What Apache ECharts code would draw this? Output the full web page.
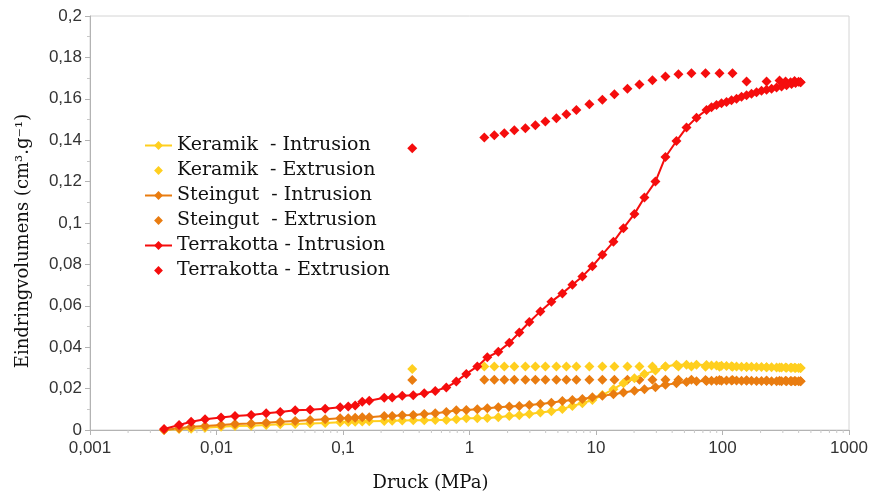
<!DOCTYPE html>
<html>
<head>
<meta charset="utf-8">
<script src="https://cdn.jsdelivr.net/npm/echarts@6/dist/echarts.min.js"></script>
<style>html,body{margin:0;padding:0;background:#fff}#c{width:872px;height:492px}</style>
</head>
<body>
<div id="c"></div>
<script>
// Pressure (MPa) of intrusion steps
const intrusionPressure = [0.00385, 0.00506, 0.0063, 0.00812, 0.01087, 0.0140, 0.0188, 0.0247, 0.0319, 0.0419, 0.0550, 0.0723, 0.0950, 0.1100, 0.1249, 0.1419, 0.1612, 0.2118, 0.2449, 0.2940, 0.3592, 0.4389, 0.5362, 0.6554,
  0.7863, 0.9434, 1.153, 1.383, 1.690, 2.065, 2.477, 2.972, 3.632, 4.437, 5.422, 6.507, 7.806, 9.365, 11.23, 13.73, 16.48, 20.13, 24.15, 29.50, 35.41, 43.26, 51.91, 62.28,
  74.70, 81.85, 89.66, 98.2, 107.5, 117.8, 129.1, 141.4, 154.9, 169.6, 185.8, 203.4, 222.9, 244.2, 267.4, 293.0, 320.9, 351.4, 378.0, 414];
const keramikIntrusion = [0, 0.0005, 0.0006, 0.0011, 0.0016, 0.0019, 0.0021, 0.0024, 0.0028, 0.0029, 0.0032, 0.0034, 0.0037, 0.0039, 0.0040, 0.0041, 0.0042, 0.0044, 0.0045, 0.0046, 0.0047, 0.0047, 0.0048, 0.0048,
  0.0052, 0.0057, 0.0057, 0.0058, 0.0062, 0.0068, 0.0071, 0.0077, 0.0084, 0.0091, 0.0102, 0.0116, 0.0129, 0.0145, 0.0169, 0.0197, 0.0226, 0.0250, 0.0271, 0.0287, 0.0307, 0.0315, 0.0315, 0.0315,
  0.0314, 0.0312, 0.0311, 0.0310, 0.0309, 0.0308, 0.0307, 0.0306, 0.0306, 0.0305, 0.0304, 0.0304, 0.0303, 0.0303, 0.0302, 0.0302, 0.0301, 0.0301, 0.0300, 0.0300];
const steingutIntrusion = [0, 0.0008, 0.0016, 0.0019, 0.0024, 0.0029, 0.0032, 0.0035, 0.0040, 0.0044, 0.0048, 0.0052, 0.0057, 0.0057, 0.0059, 0.0061, 0.0062, 0.0068, 0.0068, 0.0071, 0.0073, 0.0077, 0.0081, 0.0087,
  0.0095, 0.0097, 0.0100, 0.0105, 0.0110, 0.0113, 0.0116, 0.0121, 0.0126, 0.0132, 0.0140, 0.0145, 0.0150, 0.0158, 0.0165, 0.0173, 0.0181, 0.0190, 0.0197, 0.0207, 0.0218, 0.0226, 0.0232, 0.0235,
  0.0237, 0.0238, 0.0238, 0.0238, 0.0239, 0.0239, 0.0239, 0.0238, 0.0238, 0.0238, 0.0237, 0.0237, 0.0237, 0.0236, 0.0236, 0.0236, 0.0236, 0.0236, 0.0235, 0.0235];
const terrakottaIntrusion = [0.0005, 0.0024, 0.0040, 0.0052, 0.0060, 0.0068, 0.0073, 0.0081, 0.0087, 0.0095, 0.0098, 0.0103, 0.0110, 0.0113, 0.0118, 0.0136, 0.0141, 0.0156, 0.0157, 0.0165, 0.0168, 0.0178, 0.0189, 0.0205,
  0.0234, 0.0271, 0.0307, 0.0351, 0.0378, 0.0421, 0.0471, 0.0522, 0.0573, 0.0620, 0.0660, 0.0702, 0.0742, 0.0791, 0.0847, 0.0909, 0.0975, 0.1044, 0.1123, 0.1200, 0.1319, 0.1396, 0.1461, 0.1509,
  0.1546, 0.1559, 0.1570, 0.1579, 0.1585, 0.1593, 0.1600, 0.1610, 0.1617, 0.1625, 0.1632, 0.1639, 0.1644, 0.1649, 0.1655, 0.1659, 0.1666, 0.1671, 0.1676, 0.1680];

// Pressure (MPa) of extrusion steps
const extrusionPressure = [0.3527, 1.310, 1.571, 1.885, 2.262, 2.764, 3.316, 3.978, 4.861, 5.832, 6.998, 8.867, 11.23, 13.98, 17.72, 22.05, 27.94, 35.41, 44.86, 56.84, 73.36, 94.7, 120.0, 154.9, 222.9, 282.4, 315.0, 345.1, 371.3, 399.4, 414];
const keramikExtrusion = [0.0295, 0.0307, 0.0307, 0.0307, 0.0307, 0.0307, 0.0307, 0.0307, 0.0307, 0.0307, 0.0307, 0.0307, 0.0307, 0.0307, 0.0307, 0.0307, 0.0307, 0.0307, 0.0307, 0.0307,
  0.0306, 0.0305, 0.0305, 0.0304, 0.0303, 0.0302, 0.0302, 0.0301, 0.0301, 0.0300, 0.0300];
const steingutExtrusion = [0.0242, 0.0243, 0.0243, 0.0243, 0.0243, 0.0243, 0.0243, 0.0243, 0.0243, 0.0243, 0.0243, 0.0243, 0.0243, 0.0243, 0.0243, 0.0243, 0.0243, 0.0243, 0.0243, 0.0243,
  0.0242, 0.0241, 0.0241, 0.0240, 0.0239, 0.0238, 0.0238, 0.0237, 0.0237, 0.0236, 0.0236];
const terrakottaExtrusion = [0.1361, 0.1413, 0.1424, 0.1433, 0.1448, 0.1458, 0.1472, 0.1490, 0.1506, 0.1525, 0.1546, 0.1574, 0.1595, 0.1622, 0.1648, 0.1669, 0.1690, 0.1708, 0.1718, 0.1724,
  0.1724, 0.1724, 0.1724, 0.1683, 0.1683, 0.1688, 0.1684, 0.1680, 0.1686, 0.1682, 0.1680];

const seriesNames = ['Keramik  - Intrusion', 'Keramik  - Extrusion', 'Steingut  - Intrusion', 'Steingut  - Extrusion', 'Terrakotta - Intrusion', 'Terrakotta - Extrusion'];
const xMinorTicks = [];
[0.001, 0.01, 0.1, 1, 10, 100].forEach(d => { for (let k = 2; k <= 9; k++) xMinorTicks.push(+(d * k).toPrecision(6)); });

const colors = { keramik: '#FFCF1F', steingut: '#E97C10', terrakotta: '#F50D0D' };
const pair = (xs, ys) => xs.map((x, i) => [x, ys[i]]);
const fmt = v => String(+Number(v).toPrecision(6)).replace('.', ',');

const lineSeries = (name, color, xs, ys) => ({
  name, type: 'line', data: pair(xs, ys), symbol: 'diamond', symbolSize: 10,
  showSymbol: true, lineStyle: { color, width: 2 }, itemStyle: { color, opacity: 1 }, smooth: false, z: 3
});
// extrusion: markers only (line type with invisible line so the legend icon matches)
const dotSeries = (name, color, xs, ys) => ({
  name, type: 'line', data: pair(xs, ys), symbol: 'diamond', symbolSize: 10, showSymbol: true,
  lineStyle: { color, width: 2, opacity: 0 }, itemStyle: { color, opacity: 1 }, z: 2
});

const chart = echarts.init(document.getElementById('c'), null, { renderer: 'canvas' });
chart.setOption({
  animation: false,
  backgroundColor: '#fff',
  grid: { left: 90, right: 23, top: 16, bottom: 62, show: true, borderColor: '#d4d4d4', borderWidth: 1, backgroundColor: 'transparent', outerBoundsMode: 'none', containLabel: false },
  legend: {
    data: seriesNames.map(n => ({ name: n })),
    orient: 'vertical', left: 144, top: 136, padding: 0, itemWidth: 27, itemHeight: 11, itemGap: 6,
    textStyle: { fontFamily: 'DejaVu Serif', fontSize: 19, color: '#111' }
  },
  xAxis: {
    type: 'log', logBase: 10, min: 0.001, max: 1000,
    name: 'Druck (MPa)', nameLocation: 'middle', nameGap: 44,
    nameTextStyle: { fontFamily: 'DejaVu Serif', fontSize: 18, color: '#111', padding: [0, 78, 0, 0] },
    axisLine: { show: true, lineStyle: { color: '#b3b3b3', width: 1 } },
    axisTick: { show: true, length: 5, lineStyle: { color: '#b3b3b3' } },
    axisLabel: { formatter: fmt, fontFamily: 'Liberation Sans', fontSize: 17, color: '#333', margin: 10 },
    splitLine: { show: false }, minorTick: { show: false }
  },
  yAxis: {
    type: 'value', min: 0, max: 0.2, interval: 0.02,
    name: 'Eindringvolumens (cm³.g⁻¹)', nameLocation: 'middle', nameGap: 58,
    nameTextStyle: { fontFamily: 'DejaVu Serif', fontSize: 18, color: '#111', padding: [0, 36, 0, 0] },
    axisLine: { show: true, lineStyle: { color: '#b3b3b3', width: 1 } },
    axisTick: { show: true, length: 5, lineStyle: { color: '#b3b3b3' } },
    minorTick: { show: true, splitNumber: 2, length: 3, lineStyle: { color: '#c8c8c8' } },
    axisLabel: { formatter: fmt, fontFamily: 'Liberation Sans', fontSize: 17, color: '#333', margin: 8 },
    splitLine: { show: false }
  },
  series: [
    lineSeries(seriesNames[0], colors.keramik, intrusionPressure, keramikIntrusion),
    dotSeries(seriesNames[1], colors.keramik, extrusionPressure, keramikExtrusion),
    lineSeries(seriesNames[2], colors.steingut, intrusionPressure, steingutIntrusion),
    dotSeries(seriesNames[3], colors.steingut, extrusionPressure, steingutExtrusion),
    lineSeries(seriesNames[4], colors.terrakotta, intrusionPressure, terrakottaIntrusion),
    dotSeries(seriesNames[5], colors.terrakotta, extrusionPressure, terrakottaExtrusion),
    {
      type: 'custom', name: 'minorTicks', silent: true, clip: false, z: 1,
      data: xMinorTicks.map(v => [v, 0]),
      renderItem: (params, api) => {
        const p = api.coord([api.value(0), 0]);
        return { type: 'line', shape: { x1: p[0], y1: p[1], x2: p[0], y2: p[1] + 3 }, style: { stroke: '#c8c8c8', lineWidth: 1 } };
      }
    }
  ]
});
</script>
</body>
</html>
